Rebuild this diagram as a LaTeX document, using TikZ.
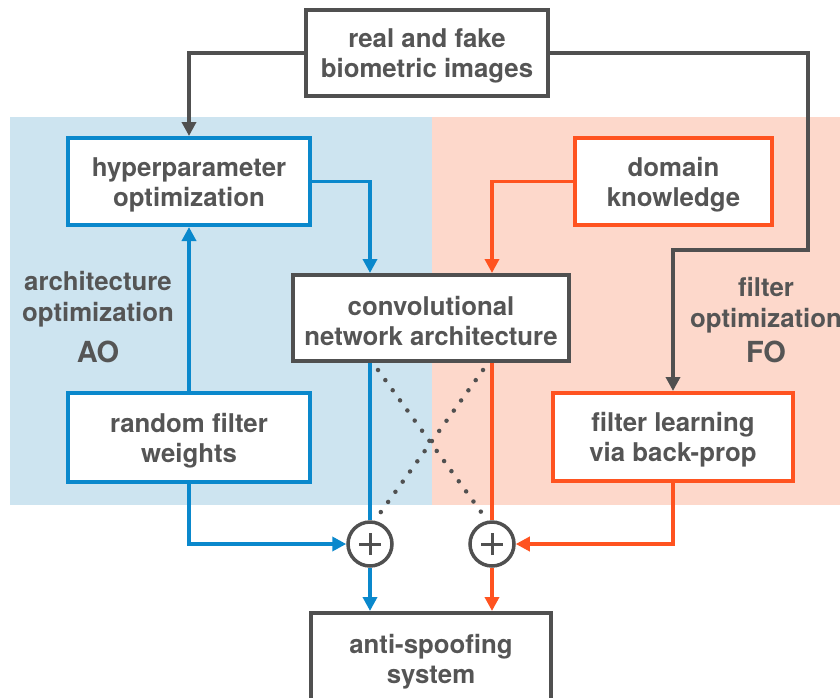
\documentclass[tikz,border=0pt]{standalone}
\usepackage{fontspec}
\setmainfont{TeX Gyre Heros}
\usetikzlibrary{arrows.meta,calc}
\definecolor{tgrey}{HTML}{555555}
\definecolor{lgrey}{HTML}{505050}
\definecolor{cblue}{HTML}{0A88CC}
\definecolor{corange}{HTML}{FF5320}
\definecolor{bgblue}{HTML}{CDE4F0}
\definecolor{bgpink}{HTML}{FDD8CB}
\tikzset{
  box/.style={draw, line width=4pt, fill=white, inner sep=0pt},
  tx/.style={text=tgrey, align=center, font=\fontsize{25.8}{30}\selectfont\bfseries, yshift=-3pt},
  gbox/.style={box, draw=lgrey},
  bbox/.style={box, draw=cblue},
  obox/.style={box, draw=corange},
  tip/.style={-{Triangle[length=14pt,width=14pt]}},
  conn/.style={line width=3.5pt},
  garr/.style={conn, draw=lgrey, tip},
  barr/.style={conn, draw=cblue, tip},
  oarr/.style={conn, draw=corange, tip},
  bline/.style={conn, draw=cblue},
  oline/.style={conn, draw=corange},
  plus/.style={circle, draw=lgrey, line width=3.5pt, fill=white, minimum size=44pt, inner sep=0pt,
    path picture={\draw[lgrey, line width=3pt] ([xshift=-11pt]path picture bounding box.center) -- ([xshift=11pt]path picture bounding box.center)
      ([yshift=-11pt]path picture bounding box.center) -- ([yshift=11pt]path picture bounding box.center);}},
  dots/.style={line width=4.5pt, draw=lgrey, line cap=round, dash pattern=on 0pt off 12.5pt},
  lab/.style={text=tgrey, align=center, font=\fontsize{25.8}{31}\selectfont\bfseries},
  biglab/.style={text=tgrey, font=\fontsize{29}{30}\selectfont\bfseries}
}
\begin{document}
\begin{tikzpicture}[x=1pt,y=-1pt]
\useasboundingbox (0,0) rectangle (840,697);
\fill[bgblue] (10,117) rectangle (432,505);
\fill[bgpink] (432,117) rectangle (840,505);

\node[gbox, minimum width=242pt, minimum height=86pt, label={[tx]center:{real and fake\\biometric images}}] (top) at (427,53) {};
\node[bbox, minimum width=242pt, minimum height=87pt, label={[tx]center:{hyperparameter\\optimization}}] (hyper) at (189,181.5) {};
\node[obox, minimum width=197pt, minimum height=87pt, label={[tx]center:{domain\\knowledge}}] (dom) at (673.5,181.5) {};
\node[gbox, minimum width=276pt, minimum height=86pt, label={[tx]center:{convolutional\\network architecture}}] (conv) at (431,318) {};
\node[bbox, minimum width=242pt, minimum height=89pt, label={[tx]center:{random filter\\weights}}] (rand) at (189,437.5) {};
\node[obox, minimum width=240pt, minimum height=88pt, label={[tx]center:{filter learning\\via back-prop}}] (filt) at (673,437) {};
\node[gbox, minimum width=240pt, minimum height=92pt, label={[tx]center:{anti-spoofing\\system}}] (anti) at (431,659) {};
\node[plus] (p1) at (370,544) {};
\node[plus] (p2) at (492,544) {};

\node[lab] (alab) at (98,299) {architecture\\optimization};
\node[biglab] (ao) at (98,352) {AO};
\node[lab] (flab) at (766,305) {filter\\optimization};
\node[biglab] (fo) at (766,352) {FO};

\coordinate (c1) at (808,250);

% grey connectors
\draw[garr] (top.west) -| (hyper.north);
\draw[garr] (top.east) -| (c1) -| (filt.north);

% blue connectors
\draw[barr] (hyper.east) -| ([xshift=-61pt]conv.north);
\draw[barr] (rand.north) -- (hyper.south);
\draw[bline] ([xshift=-61pt]conv.south) -- (p1.north);
\draw[barr] (p1.south) -- (p1.south |- anti.north);
\draw[barr] (rand.south) |- (p1.west);

% orange connectors
\draw[oarr] (dom.west) -| ([xshift=61pt]conv.north);
\draw[oline] ([xshift=61pt]conv.south) -- (p2.north);
\draw[oarr] (p2.south) -- (p2.south |- anti.north);
\draw[oarr] (filt.south) |- (p2.east);

% dotted crossing
\draw[dots] ([xshift=-53pt,yshift=-7pt]conv.south) -- ([xshift=-8pt,yshift=28pt]p2.center);
\draw[dots] ([xshift=52pt,yshift=-7pt]conv.south) -- ([xshift=8pt,yshift=28pt]p1.center);
\end{tikzpicture}
\end{document}
